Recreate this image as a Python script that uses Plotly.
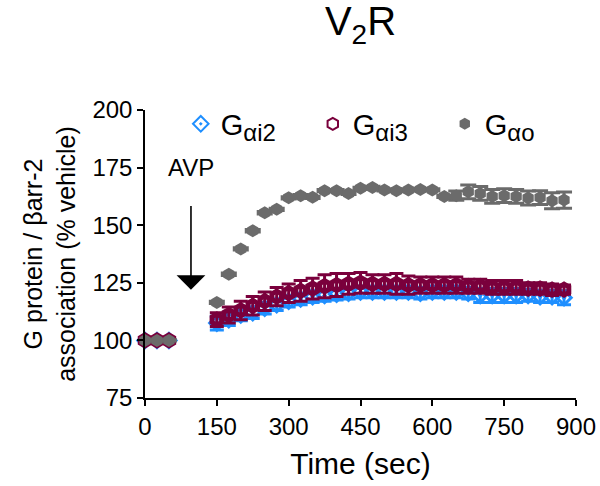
import plotly.graph_objects as go

time = [0, 25, 50] + list(range(150, 876, 25))

gi2 = [100, 100, 100,
       107.5, 109, 111, 112, 114, 115.5, 117, 118, 119, 119.5,
       120, 120.5, 121, 121, 121, 121, 121, 120.5, 121, 121,
       121, 120.5, 119.5, 119.5, 119.5, 119.5, 119.5, 119, 119, 118.5]
gi2_err = [0.5, 0.5, 0.5,
           3, 2.5, 2.5, 2.5, 2.5, 2.5, 2.5, 2.5, 2.5, 2.5,
           2.5, 2.5, 2.5, 2.5, 2.5, 2.5, 2.5, 2.5, 2.5, 2.5,
           2.5, 2.5, 3, 3, 3, 3, 2.5, 2.5, 2.5, 3]

gi3 = [100, 100, 100,
       109, 111, 113, 115, 117, 119, 120.5, 121.5, 122.5, 123.5,
       124, 124.5, 125, 124.5, 124.5, 124.5, 124, 124, 124, 124,
       124, 123.5, 123.5, 123, 123, 123, 122.5, 122.5, 122, 122]
gi3_err = [0.5, 0.5, 0.5,
           3, 3.5, 4, 4, 4, 4, 4, 4.5, 4.5, 5,
           5, 4.5, 4.5, 4, 4, 4.5, 4, 3.5, 3.5, 3.5,
           3.5, 3, 3, 3, 3, 3, 2.5, 2.5, 2.5, 2]

gao = [100, 100, 100,
       116.5, 128.7, 139.7, 147.6, 155.4, 156.9, 161.9, 162.8, 162.1, 165,
       165, 163.8, 166, 166.4, 165.3, 165, 165.3, 165.5, 165.3, 162.5,
       162.8, 164.5, 163.8, 162.5, 162.8, 162.5, 161.8, 162, 160.6, 160.9]
gao_err = [0.3, 0.3, 0.3,
           0.5, 0.5, 0.5, 0.5, 0.5, 0.5, 0.5, 0.5, 0.5, 0.5,
           0.5, 0.5, 0.5, 0.5, 0.5, 0.5, 0.5, 0.5, 0.5, 0.5,
           2, 3, 3, 3, 3, 3, 3, 3, 3.5, 3.5]

x_ticks = [0, 150, 300, 450, 600, 750, 900]
y_ticks = [75, 100, 125, 150, 175, 200]

BLUE = "#1f8fff"
MAROON = "#7a003c"
GRAY = "#6b6b6b"
FONT = "Liberation Sans, Arial, sans-serif"


def sub_name(sub):
    return "G<sub><span style='font-size:24px'>" + sub + "</span></sub>"


fig = go.Figure()

fig.add_trace(go.Scatter(
    x=time, y=gi2, mode="markers", name=sub_name("αi2"),
    marker=dict(symbol="diamond-open-dot", size=11, color=BLUE, line=dict(width=3, color=BLUE)),
    error_y=dict(type="data", array=gi2_err, color=BLUE, thickness=3, width=7),
    cliponaxis=False))
fig.add_trace(go.Scatter(
    x=time, y=gi3, mode="markers", name=sub_name("αi3"),
    marker=dict(symbol="hexagon-open", size=11, color=MAROON, line=dict(width=5, color=MAROON)),
    error_y=dict(type="data", array=gi3_err, color=MAROON, thickness=3, width=7),
    cliponaxis=False))
fig.add_trace(go.Scatter(
    x=time, y=gao, mode="markers", name=sub_name("αo"),
    marker=dict(symbol="hexagon", size=13, color=GRAY, line=dict(width=0)),
    error_y=dict(type="data", array=gao_err, color=GRAY, thickness=3, width=8),
    cliponaxis=False))

fig.add_annotation(x=96, y=122, ax=96, ay=159, xref="x", yref="y", axref="x", ayref="y",
                   showarrow=True, arrowhead=1, arrowsize=3, arrowwidth=1.6, arrowcolor="black", text="")
fig.add_annotation(x=96, y=175, xref="x", yref="y", text="AVP", showarrow=False,
                   font=dict(size=24, color="black", family=FONT))

fig.update_layout(
    width=600, height=486,
    margin=dict(l=145, r=24, t=110, b=88),
    paper_bgcolor="white", plot_bgcolor="white",
    font=dict(family=FONT, color="black", size=24),
    title=dict(text="V<sub>2</sub>R", x=0.5, xref="paper", xanchor="center", y=0.985, yanchor="top",
               font=dict(size=40, family=FONT, color="black")),
    legend=dict(orientation="h", x=0.083, y=1.04, xanchor="left", yanchor="top",
                font=dict(size=29, family=FONT), bgcolor="rgba(0,0,0,0)",
                entrywidth=87, entrywidthmode="pixels", itemwidth=30, itemsizing="constant"),
    showlegend=True,
)
fig.update_xaxes(range=[0, 900], tickvals=x_ticks, showgrid=False, zeroline=False,
                 automargin=False,
                 showline=True, linecolor="black", linewidth=1.5, ticks="outside",
                 ticklen=6, tickwidth=1.5, tickcolor="black",
                 tickfont=dict(size=24, family=FONT),
                 title=dict(text="Time (sec)", font=dict(size=30, family=FONT), standoff=14))
fig.update_yaxes(range=[75, 200], tickvals=y_ticks, showgrid=False, zeroline=False,
                 showline=True, linecolor="black", linewidth=1.5, ticks="outside",
                 ticklen=6, tickwidth=1.5, tickcolor="black",
                 tickfont=dict(size=24, family=FONT),
                 title=dict(text="G protein / βarr-2<br>association (% vehicle)",
                            font=dict(size=25, family=FONT), standoff=10))

fig.write_html("out.html")
